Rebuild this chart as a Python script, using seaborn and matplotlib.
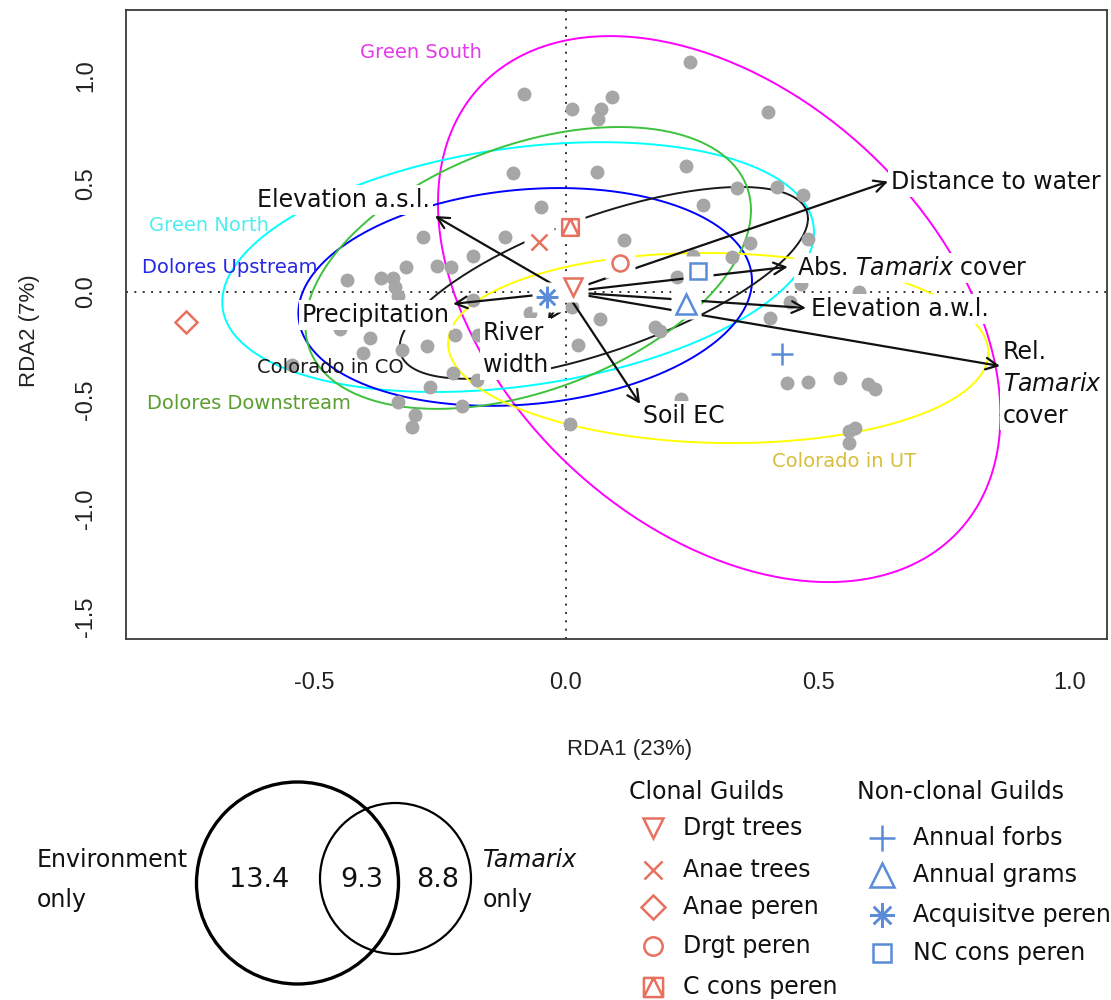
import numpy as np
import pandas as pd
import matplotlib
matplotlib.use("Agg")
import matplotlib.pyplot as plt
import seaborn as sns
from matplotlib.path import Path
from matplotlib.patches import Circle

sns.set_theme(style="white")
plt.rcParams["font.family"] = ["DejaVu Sans"]
plt.rcParams["axes.unicode_minus"] = False
plt.rcParams["mathtext.fontset"] = "dejavusans"

# ---------------------------------------------------------------- data
# site scores on the first two RDA axes
site_rda1 = [-0.083, 0.091, 0.012, 0.069, 0.063, 0.246, 0.401, -0.105, 0.062, 0.238,
             0.339, 0.419, 0.470, 0.272, -0.050, -0.284, -0.121, 0.115, 0.365, 0.480,
             -0.185, 0.252, 0.329, -0.317, -0.256, -0.228, -0.435, -0.367, -0.343, -0.339,
             -0.333, 0.220, 0.466, 0.444, 0.581, 0.012, -0.071, 0.067, 0.405, 0.177,
             0.187, -0.389, -0.448, -0.276, -0.220, -0.175, 0.024, -0.325, -0.224, -0.177,
             -0.270, -0.333, -0.206, -0.300, -0.306, 0.008, 0.228, 0.438, 0.480, 0.544,
             0.599, 0.613, 0.573, 0.562, 0.562, -0.544, -0.403, -0.185]
site_rda2 = [0.915, 0.901, 0.845, 0.845, 0.799, 1.062, 0.831, 0.550, 0.554, 0.582,
             0.480, 0.485, 0.448, 0.402, 0.393, 0.254, 0.254, 0.240, 0.226, 0.245,
             0.166, 0.166, 0.162, 0.115, 0.120, 0.115, 0.055, 0.065, 0.065, 0.023,
             -0.018, 0.069, 0.037, -0.046, 0.000, -0.069, -0.097, -0.125, -0.120, -0.162,
             -0.180, -0.212, -0.171, -0.249, -0.199, -0.199, -0.245, -0.268, -0.374, -0.406,
             -0.439, -0.508, -0.527, -0.568, -0.624, -0.610, -0.494, -0.420, -0.416, -0.397,
             -0.425, -0.448, -0.628, -0.642, -0.697, -0.337, -0.282, -0.037]

# guild (species group) scores
guild_names = ["Drgt trees", "Anae trees", "Anae peren", "Drgt peren", "C cons peren",
               "Annual forbs", "Annual grams", "Acquisitve peren", "NC cons peren"]
guild_rda1 = [0.014, -0.054, -0.754, 0.107, 0.008, 0.429, 0.238, -0.038, 0.262]
guild_rda2 = [0.023, 0.231, -0.139, 0.134, 0.300, -0.286, -0.055, -0.023, 0.097]
guild_clonal = [True, True, True, True, True, False, False, False, False]

# environmental biplot vectors
env_names = ["Distance to water", "Abs. $\\it{Tamarix}$ cover", "Elevation a.w.l.",
             "Rel.\n$\\it{Tamarix}$\ncover", "Soil EC", "River\nwidth",
             "Precipitation", "Elevation a.s.l."]
env_rda1 = [0.639, 0.440, 0.476, 0.861, 0.147, -0.036, -0.224, -0.260]
env_rda2 = [0.510, 0.116, -0.074, -0.342, -0.517, -0.134, -0.055, 0.351]

# dispersion ellipses of the river regions
region_names = ["Green South", "Green North", "Dolores Upstream", "Colorado in CO",
                "Dolores Downstream", "Colorado in UT"]
ell_cx = [0.304, -0.095, -0.081, 0.075, -0.075, 0.302]
ell_cy = [-0.079, 0.115, -0.023, 0.042, 0.111, -0.259]
ell_rx = [0.558, 0.587, 0.450, 0.405, 0.442, 0.536]
ell_ry = [1.261, 0.577, 0.503, 0.443, 0.651, 0.439]
ell_rho = [-0.388, 0.28, 0.15, 0.67, 0.41, -0.05]

# variance partitioning (%)
venn_labels = ["Environment\nonly", "Tamarix\nonly"]
venn_values = [13.4, 9.3, 8.8]

# ---------------------------------------------------------------- styles
RED = "#E8705F"
BLUE = "#5A8CD8"
cons_marker = Path([(-1, -1), (1, -1), (1, 1), (-1, 1), (-1, -1), (-1, -1), (0, 1), (1, -1)],
                   [Path.MOVETO, Path.LINETO, Path.LINETO, Path.LINETO, Path.CLOSEPOLY,
                    Path.MOVETO, Path.LINETO, Path.LINETO])
guild_style = {
    "Drgt trees": dict(marker="v", ms=13),
    "Anae trees": dict(marker="x", ms=11.5),
    "Anae peren": dict(marker="D", ms=11),
    "Drgt peren": dict(marker="o", ms=11.5),
    "C cons peren": dict(marker=cons_marker, ms=12),
    "Annual forbs": dict(marker="+", ms=16.5),
    "Annual grams": dict(marker="^", ms=15),
    "Acquisitve peren": dict(marker=(8, 2, 0), ms=15.5),
    "NC cons peren": dict(marker="s", ms=11.5),
}
ell_line_colors = ["#FF00FF", "#00FFFF", "#0000FF", "#1A1A1A", "#3CC23C", "#FFFF00"]
ell_text_colors = ["#E23CE6", "#4FEDF0", "#2626E6", "#1A1A1A", "#5A9E2E", "#D6BF3C"]
region_label_pos = [(-0.288, 1.104), (-0.708, 0.305), (-0.667, 0.111), (-0.468, -0.351),
                    (-0.629, -0.517), (0.552, -0.785)]
env_label_pos = [(0.645, 0.508, "left"), (0.458, 0.111, "left"), (0.486, -0.079, "left"),
                 (0.867, -0.425, "left"), (0.153, -0.573, "left"), (-0.165, -0.263, "left"),
                 (-0.377, -0.106, "center"), (-0.270, 0.425, "right")]
AXIS_FONT = ["Liberation Sans", "DejaVu Sans"]

# ---------------------------------------------------------------- figure
fig = plt.figure(figsize=(11.11, 10), dpi=100)
fig.patch.set_facecolor("white")
ax = fig.add_axes([126 / 1111, 1 - 639 / 1000, (1107 - 126) / 1111, (639 - 10) / 1000])
ax.set_facecolor("white")
ax.set_xlim(-0.873, 1.0734)
ax.set_ylim(-1.603, 1.3025)

# reference lines through the origin
ax.axhline(0, color="#333333", lw=1.4, ls=(0, (1, 3.3)), zorder=1)
ax.axvline(0, color="#333333", lw=1.4, ls=(0, (1, 3.3)), zorder=1)

# ellipses
t = np.linspace(0, 2 * np.pi, 300)
for i, name in enumerate(region_names):
    r = ell_rho[i]
    ex = ell_cx[i] + ell_rx[i] * np.cos(t)
    ey = ell_cy[i] + ell_ry[i] * (r * np.cos(t) + np.sqrt(1 - r * r) * np.sin(t))
    ax.plot(ex, ey, color=ell_line_colors[i], lw=1.4, zorder=2)
    lx, ly = region_label_pos[i]
    ax.text(lx, ly, name, color=ell_text_colors[i], fontsize=14, ha="center", va="center",
            zorder=8)

# sites
sites = pd.DataFrame({"RDA1": site_rda1, "RDA2": site_rda2})
sns.scatterplot(data=sites, x="RDA1", y="RDA2", color="#A6A6A6", s=100, linewidth=0,
                ax=ax, zorder=3)

# environmental vectors
for i, name in enumerate(env_names):
    ax.annotate("", xy=(env_rda1[i], env_rda2[i]), xytext=(0, 0),
                arrowprops=dict(arrowstyle="->,head_length=0.6,head_width=0.3", lw=1.6,
                                color="#111111", shrinkA=0, shrinkB=0, mutation_scale=14),
                zorder=4)
    lx, ly, ha = env_label_pos[i]
    ax.text(lx, ly, name, fontsize=17, color="#111111", ha=ha, va="center",
            linespacing=1.4, zorder=5,
            bbox=dict(boxstyle="square,pad=0.12", fc="white", ec="none"))

# guild scores with a white backing square
ax.plot(guild_rda1, guild_rda2, ls="none", marker="s", ms=21.5, mfc="white", mec="none",
        zorder=6)
for i, name in enumerate(guild_names):
    col = RED if guild_clonal[i] else BLUE
    st = guild_style[name]
    ax.plot([guild_rda1[i]], [guild_rda2[i]], ls="none", marker=st["marker"], ms=st["ms"],
            mfc="none", mec=col, mew=1.8, zorder=7)

# axes cosmetics
ax.set_xticks([-0.5, 0.0, 0.5, 1.0], ["-0.5", "0.0", "0.5", "1.0"])
ax.set_yticks([-1.5, -1.0, -0.5, 0.0, 0.5, 1.0], ["-1.5", "-1.0", "-0.5", "0.0", "0.5", "1.0"])
ax.tick_params(axis="both", direction="out", length=11, width=1.2, color="#333333",
               labelcolor="#222222", labelsize=17, labelfontfamily="Liberation Sans")
ax.tick_params(axis="x", pad=13)
ax.tick_params(axis="y", pad=10, labelrotation=90)
for lab in ax.get_yticklabels():
    lab.set_verticalalignment("center")
for sp in ax.spines.values():
    sp.set_visible(True)
    sp.set_color("#3A3A3A")
    sp.set_linewidth(1.3)
ax.set_xlabel("RDA1 (23%)", fontfamily=AXIS_FONT, fontsize=16, color="#222222",
              va="center")
ax.set_ylabel("RDA2 (7%)", fontfamily=AXIS_FONT, fontsize=16, color="#222222",
              va="center")
ax.xaxis.set_label_coords((630 - 126) / 981, (639 - 750) / 629)
ax.yaxis.set_label_coords((30 - 126) / 981, 0.49)

# ---------------------------------------------------------------- Venn diagram and legend
lay = fig.add_axes([0, 0, 1, 1])
lay.set_xlim(0, 1111)
lay.set_ylim(1000, 0)
lay.axis("off")
lay.patch.set_alpha(0)

lay.add_patch(Circle((297.5, 883), 101, fill=False, lw=2.4, ec="black"))
lay.add_patch(Circle((395.5, 878.5), 75.5, fill=False, lw=1.6, ec="black"))
for val, x in zip(venn_values, [259, 362, 438]):
    lay.text(x, 880, f"{val:.1f}", fontsize=19.5, ha="center", va="center", color="#111111")
env_lbl = venn_labels[0].split("\n")
tam_lbl = venn_labels[1].split("\n")
lay.text(37, 860, env_lbl[0], fontsize=17, ha="left", va="center", color="#111111")
lay.text(37, 900, env_lbl[1], fontsize=17, ha="left", va="center", color="#111111")
lay.text(483, 860, tam_lbl[0], fontsize=17, ha="left", va="center", style="italic",
         color="#111111")
lay.text(483, 900, tam_lbl[1], fontsize=17, ha="left", va="center", color="#111111")

legend_groups = [
    ("Clonal Guilds", 629, 653, 683, [828, 870, 907, 946, 987], True),
    ("Non-clonal Guilds", 857, 882, 913, [838, 875, 915, 953], False),
]
for title, tx, mx, lx, rows, clonal in legend_groups:
    lay.text(tx, 792, title, fontsize=17, ha="left", va="center", color="#111111")
    names = [n for n, c in zip(guild_names, guild_clonal) if c == clonal]
    col = RED if clonal else BLUE
    for name, y in zip(names, rows):
        st = guild_style[name]
        lay.plot([mx], [y], ls="none", marker=st["marker"], ms=st["ms"] * 1.15, mfc="none",
                 mec=col, mew=1.8)
        lay.text(lx, y, name, fontsize=17, ha="left", va="center", color="#111111")

fig.savefig("out.png", dpi=100, facecolor="white")
